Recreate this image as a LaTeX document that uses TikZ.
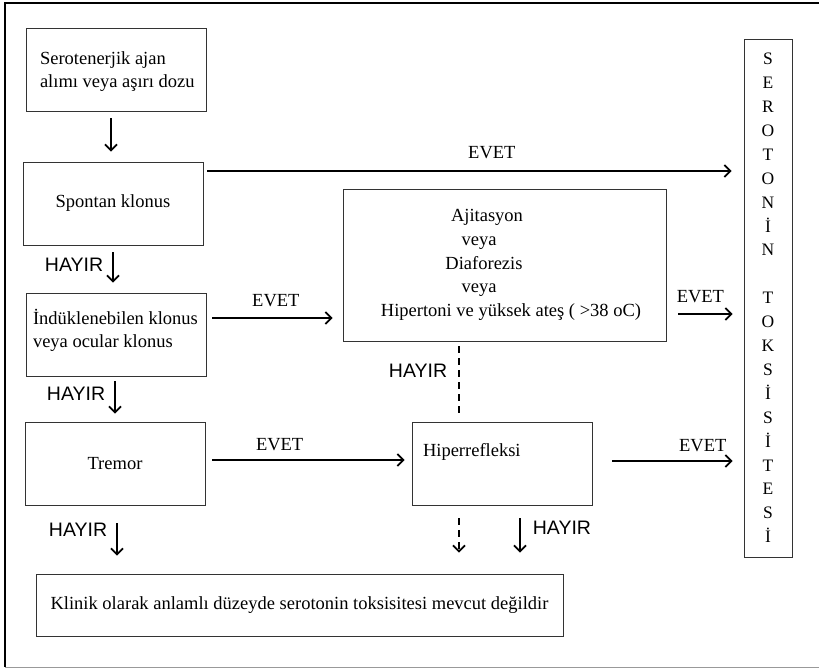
\documentclass[tikz,border=0pt]{standalone}
\usepackage{fontspec}
\setmainfont{Liberation Serif}
\newfontfamily\hayirfont{Liberation Sans}
\usetikzlibrary{arrows.meta}

\newcommand{\mainsize}{\fontsize{18.5}{23}\selectfont}
% text set at the top left of a 180x83 box
\newcommand{\boxlines}[3]{\parbox[c][83pt][t]{180pt}{\vspace*{#2}\leftskip=#1\rightskip=0pt plus 1fil\parfillskip=0pt plus 1fil #3}}

\begin{document}
\begin{tikzpicture}[x=1pt, y=-1pt,
    box/.style={draw=black!80, line width=0.9pt, inner sep=0pt, minimum width=180pt, minimum height=83pt, font=\mainsize},
    evet/.style={font=\mainsize, inner sep=1pt},
    hayir/.style={font=\hayirfont\fontsize{19.5}{23}\selectfont, inner sep=1pt},
    arrow/.style={-{Straight Barb[length=6pt, width=12pt]}, line width=1.8pt},
    dashline/.style={line width=1.8pt, dash pattern=on 7pt off 5pt}
]

% Page with its frame
\useasboundingbox (0,0) rectangle (819,669);
\fill[white] (0,0) rectangle (819,669);
\draw[line width=2pt] (819,3) -- (5,3) -- (5,667);
\draw[black!40, line width=1pt] (5,667.5) -- (819,667.5);

% Left column
\node[box] (intake) at (116,69.5) {\boxlines{14pt}{24pt}{Serotenerjik ajan\\alımı veya aşırı dozu}};
\node[box] (spontan) at (113,203.5) {Spontan klonus};
\node[box] (induced) at (116,334.5) {\boxlines{7pt}{16pt}{İndüklenebilen klonus\\veya ocular klonus}};
\node[box] (tremor) at (115,463.5) {Tremor};

% Middle column
\node[box, minimum width=323pt, minimum height=152pt, align=center, font=\fontsize{18.5}{23.8}\selectfont] (signs) at (504.5,265)
    {Ajitasyon\hspace{35pt}\mbox{}\\veya\hspace{51pt}\mbox{}\\Diaforezis\hspace{41pt}\mbox{}\\veya\hspace{51pt}\mbox{}\\\mbox{}\hspace{13pt}Hipertoni ve yüksek ateş ( >38 oC)};
\node[box] (hyper) at (502,463.5) {\boxlines{11pt}{21pt}{Hiperrefleksi}};

% Outcomes
\node[box, minimum width=48pt, minimum height=518pt, align=center, font=\fontsize{17.5}{23.9}\selectfont] (toxicity) at (768,298)
    {S\\E\\R\\O\\T\\O\\N\\İ\\N\\\mbox{}\\T\\O\\K\\S\\İ\\S\\İ\\T\\E\\S\\İ};
\node[box, minimum width=527pt, minimum height=62pt] (none) at (299.5,605)
    {Klinik olarak anlamlı düzeyde serotonin toksisitesi mevcut değildir};

% HAYIR (down) connections
\draw[arrow, shorten <=7pt, shorten >=10pt] (intake.south -| 111,0) -- (spontan.north -| 111,0);
\draw[arrow, shorten <=7pt, shorten >=10pt] (spontan.south -| 113,0) -- (induced.north -| 113,0)
    node[hayir, pos=0.42, left=8pt] (no_spontan) {HAYIR};
\draw[arrow, shorten <=5pt, shorten >=8pt] (induced.south -| 115,0) -- (tremor.north -| 115,0)
    node[hayir, pos=0.39, left=8pt] (no_induced) {HAYIR};
\draw[arrow, shorten <=18pt, shorten >=18pt] (tremor.south -| 117,0) -- (none.north -| 117,0)
    node[hayir, pos=0.36, left=8pt] (no_tremor) {HAYIR};
\draw[dashline, shorten <=5pt, shorten >=4pt] (signs.south -| 459,0) -- (hyper.north -| 459,0)
    node[hayir, pos=0.37, left=10pt] (no_signs) {HAYIR};
\draw[arrow, dashline, shorten <=13pt, shorten >=21pt] (hyper.south -| 459,0) -- (none.north -| 459,0);
\draw[arrow, shorten <=13pt, shorten >=21pt] (hyper.south -| 520,0) -- (none.north -| 520,0)
    node[hayir, pos=0.33, right=11pt] (no_hyper) {HAYIR};

% EVET (right) connections
\draw[arrow, shorten <=4pt, shorten >=12pt] (spontan.east |- 0,171) -- (toxicity.west |- 0,171)
    node[evet, pos=0.534, above=10pt] (yes_spontan) {EVET};
\draw[arrow, shorten <=6pt, shorten >=10pt] (induced.east |- 0,318) -- (signs.west |- 0,318)
    node[evet, pos=0.51, above=9pt] (yes_induced) {EVET};
\draw[arrow, shorten <=7pt, shorten >=7pt] (tremor.east |- 0,460) -- (hyper.west |- 0,460)
    node[evet, pos=0.36, above=7pt] (yes_tremor) {EVET};
\draw[arrow, shorten <=12pt, shorten >=11pt] (signs.east |- 0,314) -- (toxicity.west |- 0,314)
    node[evet, pos=0.44, above=9pt] (yes_signs) {EVET};
\draw[arrow, shorten <=20pt, shorten >=11pt] (hyper.east |- 0,461) -- (toxicity.west |- 0,461)
    node[evet, pos=0.73, above=7pt] (yes_hyper) {EVET};

\end{tikzpicture}
\end{document}
